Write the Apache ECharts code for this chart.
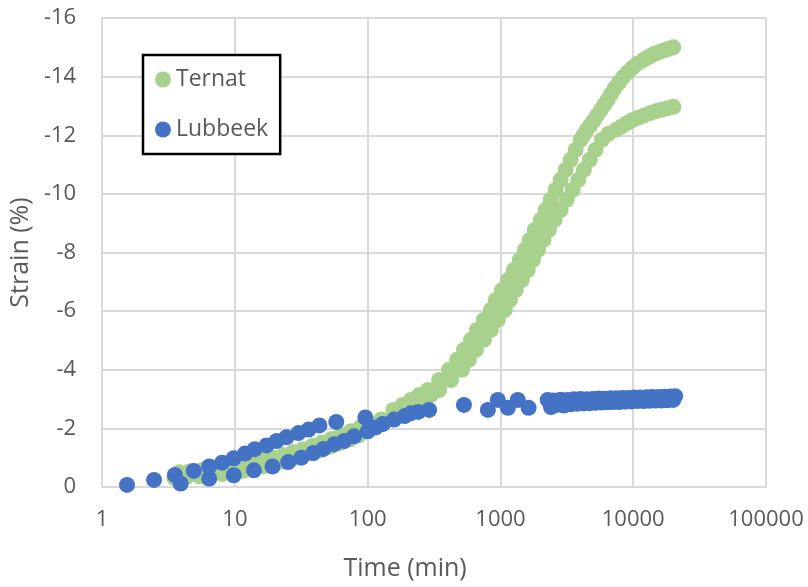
<!DOCTYPE html>
<html>
<head>
<meta charset="utf-8">
<title>Strain vs time</title>
<script src="https://cdn.jsdelivr.net/npm/echarts/dist/echarts.min.js"></script>
<style>
  html, body { margin: 0; padding: 0; background: #ffffff; }
  #chart { width: 808px; height: 587px; }
</style>
</head>
<body>
<div id="chart"></div>
<script>
// Time (min) and strain (%) readings, two specimens per site
const ternatA = [
  [3.8,-0.5],[4.6,-0.54],[5.6,-0.57],[6.8,-0.61],[8.2,-0.66],[9.8,-0.71],[11.7,-0.77],
  [13.9,-0.84],[16.5,-0.92],[19.6,-1.0],[23.2,-1.09],[27.4,-1.19],[32.4,-1.29],[38.3,-1.4],
  [45.2,-1.52],[53.4,-1.64],[63,-1.77],[74.3,-1.9],[87.6,-2.03],[103,-2.16],[126,-2.3],
  [156,-2.63],[183,-2.8],[212,-2.97],[245,-3.14],[285,-3.31],[345,-3.65],[410,-4.0],
  [471,-4.34],[531,-4.68],[600,-5.02],[665,-5.36],[750,-5.7],[847,-6.04],[923,-6.38],
  [1026,-6.72],[1137,-7.06],[1262,-7.4],[1399,-7.75],[1525,-8.09],[1663,-8.43],[1812,-8.77],
  [2010,-9.11],[2193,-9.45],[2390,-9.8],[2606,-10.14],[2839,-10.48],[3096,-10.82],
  [3377,-11.16],[3681,-11.5],[4015,-11.84],[4230,-12.0],[4454,-12.17],[4730,-12.33],
  [5027,-12.5],[5340,-12.68],[5675,-12.85],[6020,-13.03],[6400,-13.2],[6800,-13.4],
  [7223,-13.6],[7800,-13.8],[8440,-14.0],[9100,-14.15],[9860,-14.3],[10800,-14.45],
  [11940,-14.57],[12700,-14.64],[13460,-14.7],[14200,-14.76],[14930,-14.8],[16000,-14.85],
  [17140,-14.9],[18500,-14.95],[20040,-15.0]
];
const ternatB = [
  [3.5,-0.3],[4.3,-0.33],[5.4,-0.36],[6.6,-0.4],[8,-0.44],[9.6,-0.49],[11.5,-0.55],
  [13.7,-0.62],[16.3,-0.7],[19.3,-0.78],[22.8,-0.86],[27,-0.95],[32,-1.05],[37.8,-1.15],
  [44.6,-1.26],[52.6,-1.38],[62,-1.5],[73,-1.62],[86,-1.76],[101,-1.91],[118,-2.07],
  [145,-2.3],[185,-2.63],[218,-2.8],[253,-2.97],[300,-3.14],[345,-3.31],[424,-3.65],
  [513,-4.0],[579,-4.34],[654,-4.68],[750,-5.02],[847,-5.36],[956,-5.7],[1079,-6.04],
  [1177,-6.38],[1305,-6.72],[1449,-7.06],[1606,-7.4],[1760,-7.75],[1920,-8.09],
  [2110,-8.43],[2320,-8.77],[2560,-9.11],[2840,-9.45],[3150,-9.8],[3500,-10.14],
  [3860,-10.48],[4250,-10.82],[4700,-11.16],[5200,-11.5],[5800,-11.84],[6500,-12.05],
  [7480,-12.2],[8200,-12.3],[9036,-12.42],[9900,-12.52],[10940,-12.6],[12100,-12.68],
  [13460,-12.76],[14800,-12.82],[16280,-12.87],[18000,-12.92],[20040,-12.97]
];
const lubbeekA = [
  [1.54,-0.07],[2.46,-0.24],[3.53,-0.41],[4.9,-0.55],[6.4,-0.7],[8.0,-0.83],[9.8,-0.98],
  [11.9,-1.14],[14.1,-1.29],[17.3,-1.42],[20.6,-1.57],[24.5,-1.7],[30.1,-1.84],[35.8,-1.96],
  [43.3,-2.1],[58,-2.22],[96,-2.37],[531,-2.8],[955,-2.97],[1350,-2.97],
  [2270,-2.97],[2520,-2.95],[2840,-2.98],[3200,-2.97],[3560,-2.99],[4000,-3.0],[4450,-2.99],
  [4940,-3.0],[5480,-3.02],[6080,-3.01],[6740,-3.03],[7480,-3.03],[8300,-3.04],[9200,-3.04],
  [10200,-3.05],[11300,-3.05],[12600,-3.06],[13900,-3.07],[15500,-3.07],[17100,-3.08],
  [19000,-3.09],[20700,-3.1]
];
const lubbeekB = [
  [3.9,-0.12],[6.4,-0.29],[9.8,-0.4],[13.9,-0.57],[19.2,-0.7],[25.2,-0.85],[31.7,-1.0],
  [39,-1.16],[46.5,-1.3],[56,-1.46],[66.5,-1.57],[79,-1.73],[100,-1.9],[114,-2.03],
  [130,-2.15],[158,-2.3],[190,-2.42],[212,-2.52],[240,-2.56],[290,-2.63],[804,-2.63],
  [1137,-2.7],[1630,-2.7],[2400,-2.73],[2650,-2.8],[3000,-2.78],[3380,-2.82],[3780,-2.84],
  [4250,-2.85],[4700,-2.86],[5200,-2.87],[5750,-2.88],[6400,-2.89],[7100,-2.9],[7850,-2.9],
  [8700,-2.91],[9700,-2.92],[10800,-2.93],[12000,-2.93],[13300,-2.94],[14700,-2.95],
  [16300,-2.95],[18000,-2.96],[20000,-2.97]
];

const siteNames = ['Ternat', 'Lubbeek'];
const siteColors = ['#A9D18E', '#4472C4'];

const FONT = 'Open Sans';
const TEXT = '#595959';
const GRID = '#D9D9D9';

function scatter(name, data, color) {
  return {
    name: name,
    type: 'scatter',
    data: data,
    symbol: 'circle',
    symbolSize: 16,
    itemStyle: { color: color, opacity: 1 },
    emphasis: { disabled: true }
  };
}

const chart = echarts.init(document.getElementById('chart'), null, { renderer: 'canvas' });
chart.setOption({
  animation: false,
  backgroundColor: '#ffffff',
  grid: { left: 100, right: 42, top: 18, bottom: 100, containLabel: false },
  legend: {
    data: siteNames,
    orient: 'vertical',
    left: 143,
    top: 55,
    backgroundColor: '#ffffff',
    borderColor: '#000000',
    borderWidth: 2.5,
    padding: [13, 12, 13, 12],
    itemGap: 27,
    itemWidth: 16,
    itemHeight: 16,
    icon: 'circle',
    textStyle: { fontFamily: FONT, fontSize: 23, color: TEXT }
  },
  xAxis: {
    type: 'log',
    logBase: 10,
    min: 1,
    max: 100000,
    name: 'Time (min)',
    nameLocation: 'middle',
    nameGap: 69,
    nameTextStyle: { fontFamily: FONT, fontSize: 25, color: TEXT, padding: [0, 58, 0, 0] },
    axisLine: { show: true, lineStyle: { color: GRID, width: 2 } },
    axisTick: { show: false },
    axisLabel: {
      fontFamily: FONT, fontSize: 22, color: TEXT, margin: 22,
      formatter: function (v) { return String(Math.round(v)); }
    },
    splitLine: { show: true, lineStyle: { color: GRID, width: 2 } }
  },
  yAxis: {
    type: 'value',
    inverse: true,
    min: -16,
    max: 0,
    interval: 2,
    name: 'Strain (%)',
    nameLocation: 'middle',
    nameRotate: 90,
    nameGap: 60,
    nameTextStyle: { fontFamily: FONT, fontSize: 25, color: TEXT },
    axisLine: { show: true, lineStyle: { color: GRID, width: 2 } },
    axisTick: { show: false },
    axisLabel: { fontFamily: FONT, fontSize: 22, color: TEXT, margin: 26 },
    splitLine: { show: true, lineStyle: { color: GRID, width: 2 } }
  },
  series: [
    scatter(siteNames[0], ternatA, siteColors[0]),
    scatter(siteNames[0], ternatB, siteColors[0]),
    scatter(siteNames[1], lubbeekA, siteColors[1]),
    scatter(siteNames[1], lubbeekB, siteColors[1])
  ]
});
</script>
</body>
</html>
